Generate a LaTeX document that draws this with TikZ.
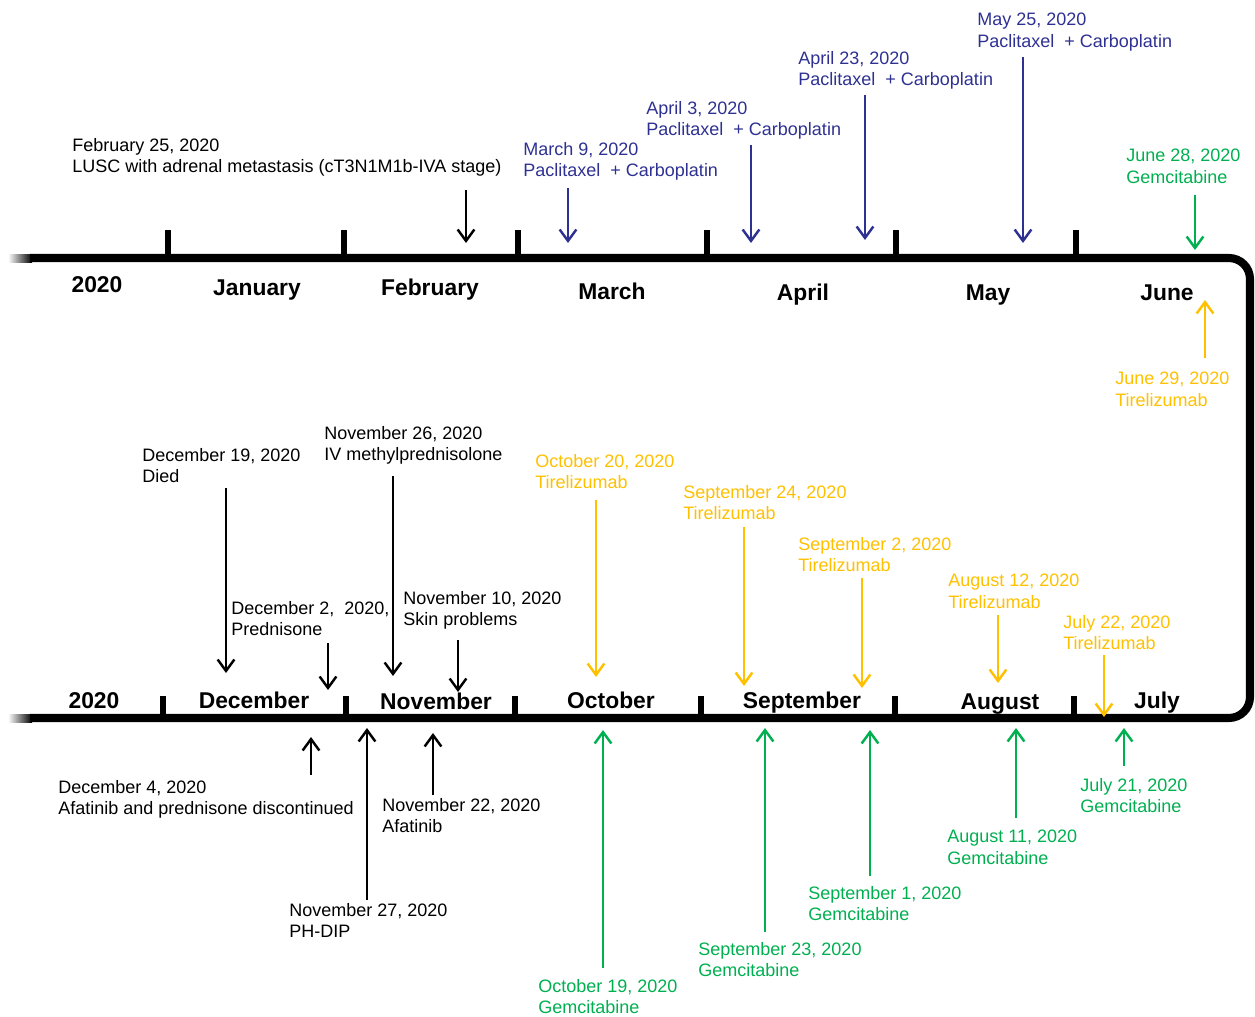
\documentclass[tikz,border=0pt]{standalone}
\usepackage{fontspec}
\setmainfont{Liberation Sans}
\usepackage{tikz}
\usepackage{xcolor}
\definecolor{navy}{RGB}{46,49,146}
\definecolor{amber}{RGB}{255,192,0}
\definecolor{leaf}{RGB}{0,176,80}
\usetikzlibrary{arrows.meta}

\begin{document}
\begin{tikzpicture}[x=0.02cm,y=-0.02cm,
        axis/.style={line width=4.6pt,line cap=butt},
        tick/.style={line width=3.6pt},
        month/.style={anchor=base,font=\fontsize{13}{15}\selectfont\bfseries,inner sep=0pt},
        evtxt/.style={anchor=north west,align=left,inner sep=0pt,font=\fontsize{10.25}{12}\selectfont},
        evarr/.style={line width=1.4pt,-{Straight Barb[length=6.5pt,width=9.5pt,line width=1.4pt]}}]
    \useasboundingbox (0,0) rectangle (1255,1017);
    % the timeline
    \shade[left color=white,right color=black] (8,254) rectangle (32,262.5);
    \shade[left color=white,right color=black] (8,714) rectangle (32,722.5);
    \draw[axis,rounded corners=12] (30,258) -- (1250,258) -- (1250,718) -- (30,718);
    \draw[tick] (168,230) -- (168,258);
    \draw[tick] (344,230) -- (344,258);
    \draw[tick] (518,230) -- (518,258);
    \draw[tick] (707,230) -- (707,258);
    \draw[tick] (896,230) -- (896,258);
    \draw[tick] (1076,230) -- (1076,258);
    \draw[tick] (163,696) -- (163,718);
    \draw[tick] (346,696) -- (346,718);
    \draw[tick] (515,696) -- (515,718);
    \draw[tick] (701,696) -- (701,718);
    \draw[tick] (895,696) -- (895,718);
    \draw[tick] (1074,696) -- (1074,718);
    \node[month] (ytop) at (97,292) {2020};
    \node[month] (jan) at (257,295) {January};
    \node[month] (feb) at (430,295) {February};
    \node[month] (mar) at (612,299) {March};
    \node[month] (apr) at (803,300) {April};
    \node[month] (may) at (988,300) {May};
    \node[month] (jun) at (1167,300) {June};
    \node[month] (ybot) at (94,708) {2020};
    \node[month] (dec) at (254,708) {December};
    \node[month] (nov) at (436,709) {November};
    \node[month] (oct) at (611,708) {October};
    \node[month] (sep) at (802,708) {September};
    \node[month] (aug) at (1000,709) {August};
    \node[month] (jul) at (1157,708) {July};

    % first half of the year
    \node[evtxt] (feb25) at (72,138) {February 25, 2020\\LUSC with adrenal metastasis (cT3N1M1b-IVA stage)};
    \coordinate (feb25a) at (466,190); \coordinate (feb25b) at (466,243);
    \draw[evarr] (feb25a) -- (feb25b);
    \node[evtxt,text=navy] (mar09) at (523,142) {March 9, 2020\\Paclitaxel \ + Carboplatin};
    \coordinate (mar09a) at (568,188); \coordinate (mar09b) at (568,243);
    \draw[evarr,navy] (mar09a) -- (mar09b);
    \node[evtxt,text=navy] (apr03) at (646,101) {April 3, 2020\\Paclitaxel \ + Carboplatin};
    \coordinate (apr03a) at (751,145); \coordinate (apr03b) at (751,243);
    \draw[evarr,navy] (apr03a) -- (apr03b);
    \node[evtxt,text=navy] (apr23) at (798,51) {April 23, 2020\\Paclitaxel \ + Carboplatin};
    \coordinate (apr23a) at (865,95); \coordinate (apr23b) at (865,240);
    \draw[evarr,navy] (apr23a) -- (apr23b);
    \node[evtxt,text=navy] (may25) at (977,13) {May 25, 2020\\Paclitaxel \ + Carboplatin};
    \coordinate (may25a) at (1023,57); \coordinate (may25b) at (1023,243);
    \draw[evarr,navy] (may25a) -- (may25b);
    \node[evtxt,text=leaf] (jun28) at (1126,149) {June 28, 2020\\Gemcitabine};
    \coordinate (jun28a) at (1195,195); \coordinate (jun28b) at (1195,250);
    \draw[evarr,leaf] (jun28a) -- (jun28b);
    \node[evtxt,text=amber] (jun29) at (1115,372) {June 29, 2020\\Tirelizumab};
    \coordinate (jun29a) at (1205,358); \coordinate (jun29b) at (1205,300);
    \draw[evarr,amber] (jun29a) -- (jun29b);

    % second half, above the line
    \node[evtxt] (dec19) at (142,448) {December 19, 2020\\Died};
    \coordinate (dec19a) at (226,488); \coordinate (dec19b) at (226,673);
    \draw[evarr] (dec19a) -- (dec19b);
    \node[evtxt] (dec02) at (231,601) {December 2, \ 2020,\\Prednisone};
    \coordinate (dec02a) at (328,643); \coordinate (dec02b) at (328,690);
    \draw[evarr] (dec02a) -- (dec02b);
    \node[evtxt] (nov26) at (324,426) {November 26, 2020\\IV methylprednisolone};
    \coordinate (nov26a) at (393,476); \coordinate (nov26b) at (393,676);
    \draw[evarr] (nov26a) -- (nov26b);
    \node[evtxt] (nov10) at (403,591) {November 10, 2020\\Skin problems};
    \coordinate (nov10a) at (458,640); \coordinate (nov10b) at (458,692);
    \draw[evarr] (nov10a) -- (nov10b);
    \node[evtxt,text=amber] (oct20) at (535,454) {October 20, 2020\\Tirelizumab};
    \coordinate (oct20a) at (596,500); \coordinate (oct20b) at (596,677);
    \draw[evarr,amber] (oct20a) -- (oct20b);
    \node[evtxt,text=amber] (sep24) at (683,485) {September 24, 2020\\Tirelizumab};
    \coordinate (sep24a) at (744,527); \coordinate (sep24b) at (744,686);
    \draw[evarr,amber] (sep24a) -- (sep24b);
    \node[evtxt,text=amber] (sep02) at (798,537) {September 2, 2020\\Tirelizumab};
    \coordinate (sep02a) at (862,578); \coordinate (sep02b) at (862,688);
    \draw[evarr,amber] (sep02a) -- (sep02b);
    \node[evtxt,text=amber] (aug12) at (948,574) {August 12, 2020\\Tirelizumab};
    \coordinate (aug12a) at (998,615); \coordinate (aug12b) at (998,683);
    \draw[evarr,amber] (aug12a) -- (aug12b);
    \node[evtxt,text=amber] (jul22) at (1063,615) {July 22, 2020\\Tirelizumab};
    \coordinate (jul22a) at (1104,655); \coordinate (jul22b) at (1104,717);
    \draw[evarr,amber] (jul22a) -- (jul22b);

    % second half, below the line
    \node[evtxt] (dec04) at (58,780) {December 4, 2020\\Afatinib and prednisone discontinued};
    \coordinate (dec04a) at (311,775); \coordinate (dec04b) at (311,737);
    \draw[evarr] (dec04a) -- (dec04b);
    \node[evtxt] (nov27) at (289,903) {November 27, 2020\\PH-DIP};
    \coordinate (nov27a) at (367,900); \coordinate (nov27b) at (367,728);
    \draw[evarr] (nov27a) -- (nov27b);
    \node[evtxt] (nov22) at (382,798) {November 22, 2020\\Afatinib};
    \coordinate (nov22a) at (433,795); \coordinate (nov22b) at (433,733);
    \draw[evarr] (nov22a) -- (nov22b);
    \node[evtxt,text=leaf] (oct19) at (538,979) {October 19, 2020\\Gemcitabine};
    \coordinate (oct19a) at (603,968); \coordinate (oct19b) at (603,730);
    \draw[evarr,leaf] (oct19a) -- (oct19b);
    \node[evtxt,text=leaf] (sep23) at (698,942) {September 23, 2020\\Gemcitabine};
    \coordinate (sep23a) at (765,932); \coordinate (sep23b) at (765,728);
    \draw[evarr,leaf] (sep23a) -- (sep23b);
    \node[evtxt,text=leaf] (sep01) at (808,886) {September 1, 2020\\Gemcitabine};
    \coordinate (sep01a) at (870,876); \coordinate (sep01b) at (870,730);
    \draw[evarr,leaf] (sep01a) -- (sep01b);
    \node[evtxt,text=leaf] (aug11) at (947,830) {August 11, 2020\\Gemcitabine};
    \coordinate (aug11a) at (1016,818); \coordinate (aug11b) at (1016,728);
    \draw[evarr,leaf] (aug11a) -- (aug11b);
    \node[evtxt,text=leaf] (jul21) at (1080,778) {July 21, 2020\\Gemcitabine};
    \coordinate (jul21a) at (1124,766); \coordinate (jul21b) at (1124,728);
    \draw[evarr,leaf] (jul21a) -- (jul21b);
\end{tikzpicture}
\end{document}
